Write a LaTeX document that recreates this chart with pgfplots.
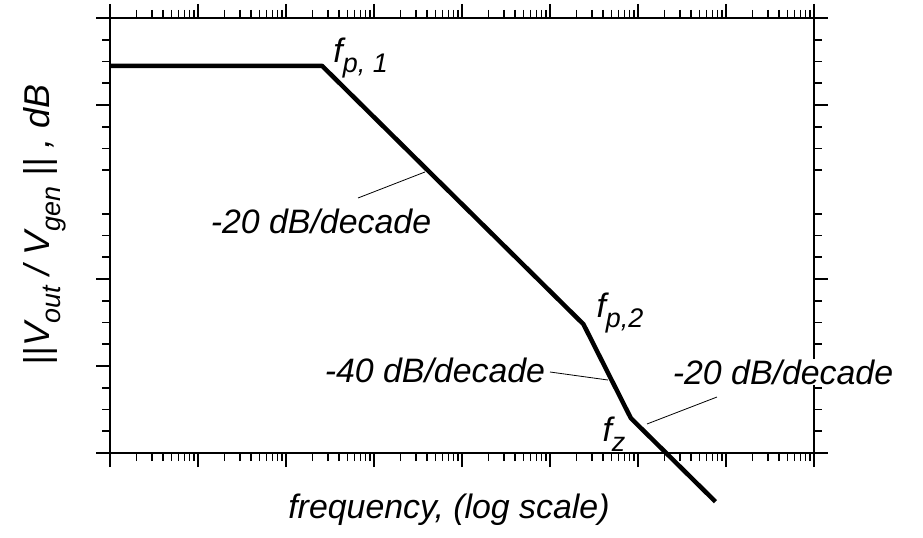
\documentclass[border=0pt]{standalone}
\usepackage{fontspec}
\setmainfont{Liberation Sans}
\usepackage{pgfplots}
\pgfplotsset{compat=1.18}
\tikzset{annot/.style={font=\fontsize{34}{40}\selectfont\itshape, inner sep=1bp}}
\newcommand\sub[1]{\raisebox{-0.3em}{\fontsize{27}{30}\selectfont #1}}

\begin{document}
\begin{tikzpicture}
\useasboundingbox (-110bp,-85bp) rectangle (813bp,453bp);
\begin{axis}[
  at={(0,0)}, anchor=south west,
  scale only axis, width=704bp, height=435bp,
  xmode=log, xmin=1, xmax=1e8,
  ymin=0, ymax=100,
  xtick={1,1e1,1e2,1e3,1e4,1e5,1e6,1e7,1e8},
  minor xtick={2,3,4,5,6,7,8,9,
    2e1,3e1,4e1,5e1,6e1,7e1,8e1,9e1,
    2e2,3e2,4e2,5e2,6e2,7e2,8e2,9e2,
    2e3,3e3,4e3,5e3,6e3,7e3,8e3,9e3,
    2e4,3e4,4e4,5e4,6e4,7e4,8e4,9e4,
    2e5,3e5,4e5,5e5,6e5,7e5,8e5,9e5,
    2e6,3e6,4e6,5e6,6e6,7e6,8e6,9e6,
    2e7,3e7,4e7,5e7,6e7,7e7,8e7,9e7},
  ytick={0,20,40,80,100},
  minor ytick={5,10,15,25,30,35,45,50,55,65,70,75,85,90,95},
  xticklabels={}, yticklabels={},
  tick align=outside,
  major tick length=14bp, minor tick length=8bp,
  every tick/.append style={black, line width=1.6bp},
  axis line style={line width=1.6bp},
  clip=false,
]
% Bode magnitude asymptotes: pole, pole, zero
\addplot[black, line width=4.5bp, line join=round] coordinates {
  (1,89) (257,89) (2.4e5,29.6) (8.3e5,8.0) (7.6e6,-11.2)};

% leader lines for the slope annotations
\draw[line width=0.8bp] (rel axis cs:0.3523,0.5862) -- (rel axis cs:0.4474,0.6460);
\draw[line width=0.8bp] (rel axis cs:0.625,0.1862) -- (rel axis cs:0.7074,0.1678);
\draw[line width=0.8bp] (rel axis cs:0.7628,0.0667) -- (rel axis cs:0.8622,0.1287);

\node[annot] at (rel axis cs:0.356,0.908) {f\sub{p, 1}};
\node[annot] at (rel axis cs:0.2997,0.5333) {-20 dB/decade};
\node[annot] at (rel axis cs:0.7244,0.3218) {f\sub{p,2}};
\node[annot] at (rel axis cs:0.4616,0.1908) {-40 dB/decade};
\node[annot] at (rel axis cs:0.7159,0.0437) {f\sub{z}};
\node[annot, fill=white] at (rel axis cs:0.9560,0.1862) {-20 dB/decade};

\node[annot] at (rel axis cs:0.4815,-0.131) {frequency, (log scale)};
\node[annot, rotate=90, font=\fontsize{36}{42}\selectfont\itshape] at (rel axis cs:-0.0923,0.524) {||V\sub{out} / V\sub{gen} || , dB};
\end{axis}
\end{tikzpicture}
\end{document}
